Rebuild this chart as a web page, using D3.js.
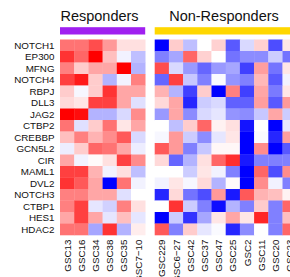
<!DOCTYPE html>
<html lang="en">
<head>
  <meta charset="UTF-8">
  <title>Heatmap</title>
  <style>
    body { margin: 0; background: #fff; }
  </style>
</head>
<body>
<div id="output"></div>
</body>
<script src="https://d3js.org/d3.v7.min.js"></script>

<script type="text/javascript">
  const genes = ["NOTCH1", "EP300", "MFNG", "NOTCH4", "RBPJ", "DLL3", "JAG2", "CTBP2", "CREBBP",
    "GCN5L2", "CIR", "MAML1", "DVL2", "NOTCH3", "CTBP1", "HES1", "HDAC2"];
  const responders = ["GSC13", "GSC16", "GSC34", "GSC38", "GSC35", "GSC7\u221210"];
  const nonResponders = ["GSC229", "GSC6\u221227", "GSC42", "GSC37", "GSC47", "GSC25", "GSC2", "GSC11", "GSC20", "GSC23"];

  // one row per gene, one value per sample
  const respValues = [
    [0.55, 0.55, 0.7, 0.4, 0.12, 0.12],
    [0.8, 0.6, 1, 0.25, -0.05, -0.25],
    [0.5, 0.2, 0.35, 0.35, 1, -0.3],
    [0.75, 0.9, 0.2, -0.3, -0.05, 0.5],
    [0.2, -0.03, 0.2, 0.8, 0.35, 0.35],
    [0.15, 0.1, 0.75, 0.75, 0.35, -0.12],
    [1, 0.95, -0.3, -0.3, -0.15, 0.45],
    [0.55, -0.12, 0.2, 0.55, 0.1, 0.35],
    [0.25, 0.5, 0.3, 0.45, 0.65, -0.15],
    [-0.07, 0.2, 0.6, 0.55, 0.35, -0.07],
    [0.35, -0.05, 0.02, 0.12, 0.75, 0.45],
    [0.75, 0.75, 0.3, -0.05, 0.12, -0.25],
    [0.8, 0.65, 0.35, -1, 0.55, -0.05],
    [0.5, 0.5, 0.35, 0.35, -0.12, 0],
    [0.5, 0.75, -0.1, -0.18, 0.5, 0.12],
    [0.35, 0.75, 0.35, -0.1, 0.25, -0.1],
    [0.55, 0.55, -0.35, 0.8, -0.3, 0.07]
  ];
  const nonRespValues = [
    [-1, 0.2, -0.25, 0, 0.18, -0.65, -0.15, 0.18, -0.7, 0.1],
    [-0.5, -0.35, 0.6, 0.18, 0, -0.55, -0.45, -0.45, -0.2, -0.55],
    [0.7, -0.15, -0.4, -0.6, -0.4, -0.35, -0.75, 0.38, -0.55, 0.1],
    [-0.6, 0.75, -0.22, -0.5, -0.02, -0.42, -0.5, 0.28, -0.65, -0.05],
    [0.3, -0.3, -0.75, 0.2, -1, 0.5, -0.75, 0.35, -0.52, 0.1],
    [0.15, 0.35, -0.85, -0.2, -0.15, -0.62, -0.62, 0.38, -0.65, 0.4],
    [-0.4, 0.35, -0.45, -0.15, -0.1, -0.42, -0.45, -0.22, 0.35, -0.2],
    [0, -0.25, 0.2, 0.6, 0.05, 0.12, -0.92, 0, -1, -0.1],
    [-0.03, 0.4, -0.2, -0.45, -0.1, 0.1, -1, -0.02, -0.85, 0.38],
    [0.65, 0.4, -0.5, -0.22, 0.03, 0.03, -1, 0.45, -1, -0.65],
    [0.15, -0.6, -0.3, 0.12, 0.6, 0.82, -0.9, -0.5, -0.5, -0.5],
    [0, 0, -0.2, 0.1, -0.05, -0.5, -1, 0.6, -0.7, 0.45],
    [-0.05, 0.1, -0.03, 0.15, -0.3, 0.02, -1, 0.45, -0.05, -0.5],
    [-0.85, 0.15, -0.55, -0.7, 0.4, -0.9, 0.65, 0.3, 0.25, 0.05],
    [0, 0.8, -0.2, -0.5, -0.95, -0.3, -0.5, 0.2, -0.5, 0.6],
    [-1, -0.2, -0.8, -0.35, 0.1, 0.35, 0.1, 0.85, -0.5, 0.25],
    [0.65, -0.5, 0.2, -0.1, -0.02, -0.85, -0.45, 0, -0.5, 0.6]
  ];

  const width = 290, height = 277;
  const font = "'Liberation Sans', Arial, sans-serif";

  const svg = d3.select("#output").append("svg")
    .attr("width", width)
    .attr("height", height);

  const color = d3.scaleLinear()
    .domain([-1, 0, 1])
    .range(["#0000ff", "#ffffff", "#ff0000"]);

  const y = d3.scaleBand().domain(genes).range([39.5, 235]);

  const groups = [
    {title: "Responders", samples: responders, values: respValues, fill: "#a020f0", x0: 60, x1: 145.2},
    {title: "Non-Responders", samples: nonResponders, values: nonRespValues, fill: "#ffd700", x0: 154.7, x1: 296.7}
  ];

  groups.forEach(function (g) {
    const x = d3.scaleBand().domain(g.samples).range([g.x0, g.x1]);
    const block = svg.append("g");

    const cells = [];
    g.values.forEach(function (row, i) {
      row.forEach(function (v, j) {
        cells.push({gene: genes[i], sample: g.samples[j], value: v});
      });
    });

    block.selectAll("rect.cell")
      .data(cells)
      .enter().append("rect")
      .attr("class", "cell")
      .attr("x", d => x(d.sample))
      .attr("y", d => y(d.gene))
      .attr("width", x.bandwidth() + 0.3)
      .attr("height", y.bandwidth() + 0.3)
      .style("fill", d => color(d.value));

    // group colour bar
    block.append("rect")
      .attr("x", g.x0)
      .attr("y", 27.2)
      .attr("width", g.x1 - g.x0)
      .attr("height", 7.3)
      .style("fill", g.fill);

    block.append("text")
      .attr("x", g.title === "Responders" ? 99.5 : 224)
      .attr("y", 21)
      .attr("text-anchor", "middle")
      .style("font-family", font)
      .style("font-size", "14.5px")
      .style("fill", "#111")
      .text(g.title);

    // sample labels, rotated
    block.selectAll("text.sample")
      .data(g.samples)
      .enter().append("text")
      .attr("class", "sample")
      .attr("transform", d => "translate(" + (x(d) + x.bandwidth() / 2 + 3.5) + ",239.5) rotate(-90)")
      .attr("text-anchor", "end")
      .style("font-family", font)
      .style("font-size", "9.8px")
      .style("fill", "#111")
      .text(d => d);
  });

  svg.append("g").selectAll("text")
    .data(genes)
    .enter().append("text")
    .attr("x", 54.5)
    .attr("y", d => y(d) + y.bandwidth() / 2 + 3.5)
    .attr("text-anchor", "end")
    .style("font-family", font)
    .style("font-size", "9.8px")
    .style("fill", "#111")
    .text(d => d);
</script>

</html>
